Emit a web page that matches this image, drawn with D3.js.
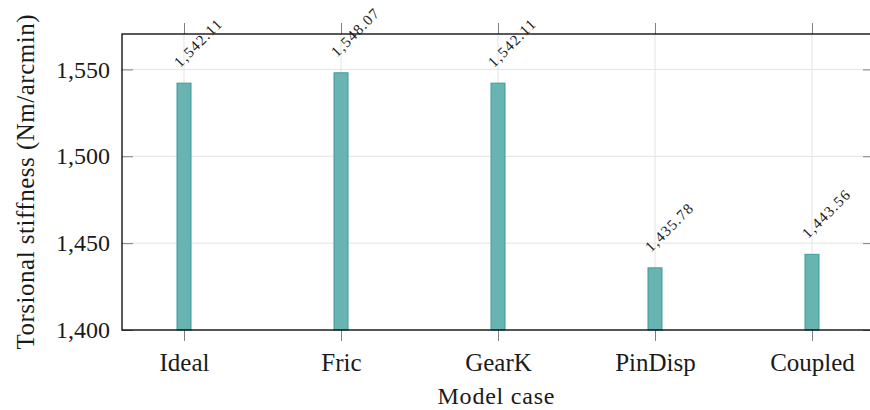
<!DOCTYPE html>
<html>
<head>
<meta charset="utf-8">
<script src="https://cdn.jsdelivr.net/npm/d3@7"></script>
<style>
  html, body { margin: 0; padding: 0; background: #fff; }
</style>
</head>
<body>
<svg id="chart" width="870" height="410"></svg>
<script>
const categories = ["Ideal", "Fric", "GearK", "PinDisp", "Coupled"];
const stiffness = [1542.11, 1548.07, 1542.11, 1435.78, 1443.56];
const yTickValues = [1400, 1450, 1500, 1550];
const yDomain = [1400, 1570.4];
const yTitle = "Torsional stiffness (Nm/arcmin)";
const xTitle = "Model case";

const FONT = "Liberation Serif, DejaVu Serif, serif";
const svg = d3.select("#chart");
const m = { left: 122, right: 874, top: 34, bottom: 330 };

const x = d3.scalePoint().domain(categories).range([m.left, m.right]).padding(0.395);
const y = d3.scaleLinear().domain(yDomain).range([m.bottom, m.top]);

const gridColor = "#e3e3e3";
const tickColor = "#7f7f7f";
const textColor = "#1a1a1a";

// grid
svg.append("g").selectAll("line").data(yTickValues).join("line")
  .attr("x1", m.left).attr("x2", m.right)
  .attr("y1", d => y(d)).attr("y2", d => y(d))
  .attr("stroke", gridColor).attr("stroke-width", 1);
svg.append("g").selectAll("line").data(categories).join("line")
  .attr("x1", d => x(d)).attr("x2", d => x(d))
  .attr("y1", m.top).attr("y2", m.bottom)
  .attr("stroke", gridColor).attr("stroke-width", 1);

// bars
const barW = 14;
svg.append("g").selectAll("rect").data(categories).join("rect")
  .attr("x", d => x(d) - barW / 2)
  .attr("width", barW)
  .attr("y", (d, i) => y(stiffness[i]))
  .attr("height", (d, i) => y(yDomain[0]) - y(stiffness[i]))
  .attr("fill", "#67b4b3")
  .attr("stroke", "#3e9b98")
  .attr("stroke-width", 1);

const tickLen = 11;
// bottom (outside)
svg.append("g").attr("transform", `translate(0,${m.bottom})`)
  .call(d3.axisBottom(x).tickSize(tickLen).tickPadding(12))
  .call(g => g.select(".domain").remove())
  .call(g => g.selectAll(".tick line").attr("stroke", tickColor))
  .call(g => g.selectAll(".tick text").attr("font-size", 25).attr("fill", textColor)
      .attr("font-family", FONT));
// top (outside)
svg.append("g").attr("transform", `translate(0,${m.top})`)
  .call(d3.axisTop(x).tickSize(tickLen).tickFormat(""))
  .call(g => g.select(".domain").remove())
  .call(g => g.selectAll(".tick line").attr("stroke", tickColor));
// left (inside)
svg.append("g").attr("transform", `translate(${m.left},0)`)
  .call(d3.axisLeft(y).tickValues(yTickValues).tickFormat(d3.format(",")).tickSize(-tickLen).tickPadding(12))
  .call(g => g.select(".domain").remove())
  .call(g => g.selectAll(".tick line").attr("stroke", tickColor))
  .call(g => g.selectAll(".tick text").attr("font-size", 24).attr("fill", textColor)
      .attr("font-family", FONT));
// right (inside)
svg.append("g").attr("transform", `translate(${m.right},0)`)
  .call(d3.axisRight(y).tickValues(yTickValues).tickSize(-tickLen).tickFormat(""))
  .call(g => g.select(".domain").remove())
  .call(g => g.selectAll(".tick line").attr("stroke", tickColor));

// frame
svg.append("rect")
  .attr("x", m.left).attr("y", m.top)
  .attr("width", m.right - m.left).attr("height", m.bottom - m.top)
  .attr("fill", "none").attr("stroke", "#000").attr("stroke-width", 1.3);

// value labels
const fmt = d3.format(",.2f");
svg.append("g").selectAll("text").data(categories).join("text")
  .attr("transform", (d, i) => `translate(${x(d) - 4},${y(stiffness[i]) - 15}) rotate(-45)`)
  .attr("font-family", FONT)
  .attr("font-size", 15)
  .attr("letter-spacing", 1.2)
  .attr("fill", textColor)
  .text((d, i) => fmt(stiffness[i]));

// titles
svg.append("text")
  .attr("x", (m.left + m.right) / 2 - 2).attr("y", 404)
  .attr("font-family", FONT)
  .attr("text-anchor", "middle").attr("font-size", 24).attr("fill", textColor)
  .attr("textLength", 117).attr("lengthAdjust", "spacing")
  .text(xTitle);
svg.append("text")
  .attr("transform", `translate(34,${(m.top + m.bottom) / 2 + 0}) rotate(-90)`)
  .attr("font-family", FONT)
  .attr("text-anchor", "middle").attr("font-size", 25).attr("fill", textColor)
  .attr("textLength", 335).attr("lengthAdjust", "spacing")
  .text(yTitle);
</script>
</body>
</html>
